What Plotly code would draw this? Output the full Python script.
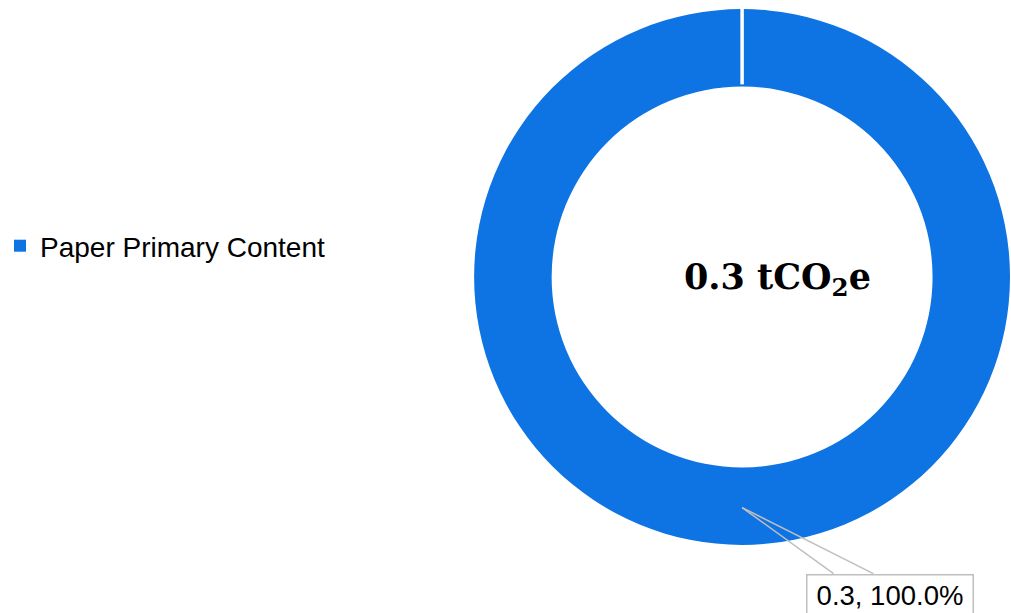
import math
import plotly.graph_objects as go

# ---- data ----
labels = ["Paper Primary Content"]
values = [0.3]
center_label = "0.3 tCO<sub>2</sub>e"

W, H = 1011, 613
BLUE = "#0E73E3"

def px_x(x):
    return x / W

def px_y(y):
    return 1 - y / H

# pie geometry (pixels)
dom_l, dom_r, dom_t, dom_b = 471, 1010, 7, 547
hole = 0.711
cx = (dom_l + dom_r) / 2
cy = (dom_t + dom_b) / 2
r_out = min(dom_r - dom_l, dom_b - dom_t) / 2
r_in = r_out * hole

total = sum(values)

fig = go.Figure()
fig.add_trace(go.Pie(
    labels=labels,
    values=values,
    hole=hole,
    sort=False,
    direction="clockwise",
    rotation=0,
    textinfo="none",
    hoverinfo="label+value+percent",
    marker=dict(colors=[BLUE], line=dict(color="white", width=0)),
    domain=dict(x=[px_x(dom_l), px_x(dom_r)], y=[px_y(dom_b), px_y(dom_t)]),
    showlegend=True,
))

shapes = []
annotations = []

# white separator at slice start (top)
shapes.append(dict(type="line", xref="paper", yref="paper",
                   x0=px_x(cx), x1=px_x(cx),
                   y0=px_y(cy - r_in - 1), y1=px_y(cy - r_out - 2),
                   line=dict(color="white", width=3.5), layer="above"))

# data label callout
cum = 0.0
for lab, v in zip(labels, values):
    frac = v / total
    mid = (cum + frac / 2) * 2 * math.pi
    cum += frac
    rm = (r_out + r_in) / 2
    tx = cx + rm * math.sin(mid)
    ty = cy - rm * math.cos(mid)
    box_l, box_t, box_w = tx + 64, ty + 66, 167
    base1, base2 = box_l + 28, box_l + 68
    for bx in (base1, base2):
        shapes.append(dict(type="line", xref="paper", yref="paper",
                           x0=px_x(tx), y0=px_y(ty), x1=px_x(bx), y1=px_y(box_t),
                           line=dict(color="#BFBFBF", width=1.5), layer="above"))
    annotations.append(dict(
        xref="paper", yref="paper", x=px_x(box_l), y=px_y(box_t),
        xanchor="left", yanchor="top", showarrow=False,
        text=f"{v:g}, {frac*100:.1f}%",
        font=dict(family="Liberation Sans, Arial, sans-serif", size=27.5, color="#000000"),
        bordercolor="#BFBFBF", borderwidth=1.5, borderpad=4, bgcolor="white",
        width=box_w - 10, align="center",
    ))

# center total label
annotations.append(dict(
    xref="paper", yref="paper", x=px_x(776), y=px_y(cy + 2),
    xanchor="center", yanchor="middle", showarrow=False,
    text=f"<b>{center_label}</b>",
    font=dict(family="DejaVu Serif, Georgia, serif", size=35, color="#000000"),
))

fig.update_layout(
    width=W, height=H,
    margin=dict(l=0, r=0, t=0, b=0),
    paper_bgcolor="white", plot_bgcolor="white",
    shapes=shapes,
    annotations=annotations,
    legend=dict(
        x=-0.006, y=px_y(246), xanchor="left", yanchor="middle",
        font=dict(family="Liberation Sans, Arial, sans-serif", size=28, color="#000000"),
        bgcolor="rgba(0,0,0,0)", borderwidth=0,
    ),
)

fig.write_html(
    "out.html",
    config={"displayModeBar": False},
    post_script="document.body.style.margin='0';document.body.style.overflow='hidden';",
)
